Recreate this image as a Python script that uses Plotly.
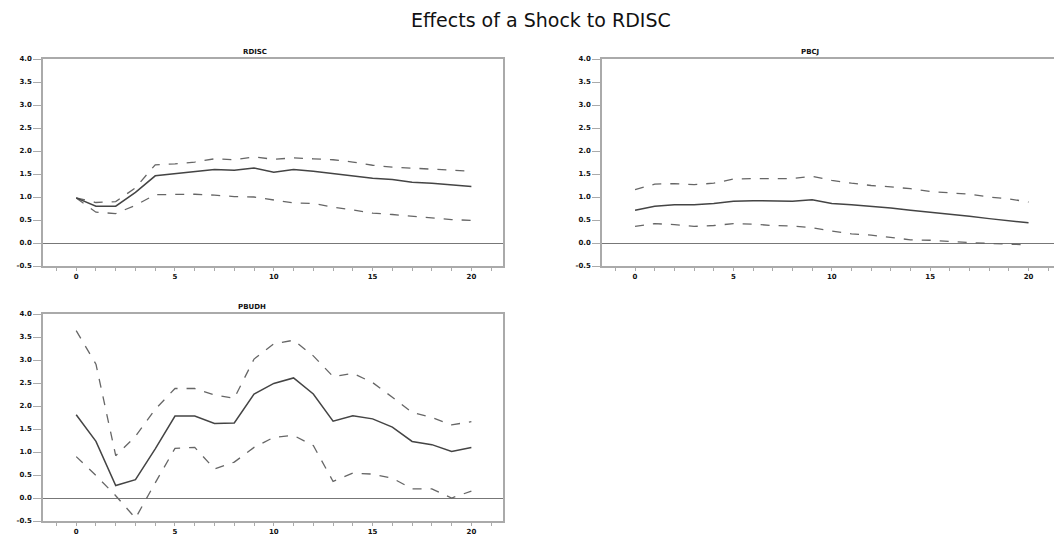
import plotly.graph_objects as go

steps = list(range(21))

rdisc_mid = [0.98, 0.80, 0.80, 1.10, 1.46, 1.51, 1.56, 1.60, 1.58, 1.63, 1.54,
             1.60, 1.56, 1.51, 1.45, 1.41, 1.38, 1.32, 1.30, 1.26, 1.23]
rdisc_hi = [0.98, 0.88, 0.90, 1.20, 1.70, 1.72, 1.76, 1.83, 1.81, 1.87, 1.82,
            1.85, 1.83, 1.81, 1.76, 1.69, 1.65, 1.63, 1.60, 1.58, 1.56]
rdisc_lo = [0.98, 0.67, 0.64, 0.82, 1.05, 1.06, 1.06, 1.04, 1.01, 1.00, 0.94,
            0.87, 0.86, 0.78, 0.72, 0.65, 0.62, 0.58, 0.55, 0.51, 0.49]

pbcj_mid = [0.71, 0.80, 0.83, 0.83, 0.86, 0.91, 0.92, 0.91, 0.91, 0.94, 0.86,
            0.83, 0.80, 0.76, 0.71, 0.67, 0.62, 0.58, 0.53, 0.48, 0.44]
pbcj_hi = [1.16, 1.28, 1.29, 1.27, 1.30, 1.39, 1.40, 1.40, 1.40, 1.45, 1.36,
           1.30, 1.25, 1.22, 1.18, 1.12, 1.09, 1.06, 1.00, 0.96, 0.89]
pbcj_lo = [0.36, 0.42, 0.40, 0.36, 0.38, 0.42, 0.41, 0.38, 0.37, 0.33, 0.26,
           0.20, 0.17, 0.12, 0.07, 0.06, 0.03, 0.01, -0.01, -0.03, -0.04]

pbudh_mid = [1.81, 1.23, 0.27, 0.40, 1.07, 1.78, 1.78, 1.62, 1.63, 2.26, 2.49,
             2.61, 2.26, 1.67, 1.79, 1.72, 1.54, 1.23, 1.16, 1.01, 1.10]
pbudh_hi = [3.64, 2.91, 0.92, 1.34, 1.93, 2.38, 2.38, 2.24, 2.17, 3.02, 3.35,
            3.43, 3.09, 2.64, 2.71, 2.51, 2.19, 1.86, 1.75, 1.59, 1.66]
pbudh_lo = [0.90, 0.49, 0.05, -0.44, 0.33, 1.08, 1.10, 0.63, 0.78, 1.10, 1.32,
            1.36, 1.14, 0.36, 0.54, 0.52, 0.43, 0.20, 0.20, 0.00, 0.15]

panel_titles = ["RDISC", "PBCJ", "PBUDH"]
main_title = "Effects of a Shock to RDISC"
x_ticks = [0, 5, 10, 15, 20]
y_ticks = [-0.5, 0.0, 0.5, 1.0, 1.5, 2.0, 2.5, 3.0, 3.5, 4.0]

# page has an 8px body margin; figure sized to fill the rest of the window
OFF = 8
W, H = 1062 - OFF, 537 - OFF


def px(x):
    return (x - OFF) / W


def py(y):
    return 1 - (y - OFF) / H


panels = [
    (rdisc_mid, rdisc_hi, rdisc_lo, (43, 503), (59, 266), "x", "y"),
    (pbcj_mid, pbcj_hi, pbcj_lo, (602, 1060), (59, 266), "x2", "y2"),
    (pbudh_mid, pbudh_hi, pbudh_lo, (43, 503), (314, 521), "x3", "y3"),
]
title_pos = [(255, 52), (810, 52), (252, 307)]

fig = go.Figure()
layout = dict(
    width=W, height=H, margin=dict(l=0, r=0, t=0, b=0, autoexpand=False),
    paper_bgcolor="white", plot_bgcolor="white", showlegend=False,
    font=dict(family="DejaVu Sans", color="#222"),
)
annotations = []
tickfont = dict(size=7, family="DejaVu Sans", color="#111")
for i, (mid, hi, lo, (x0, x1), (y0, y1), xa, ya) in enumerate(panels):
    for series, dash, w, col in ((hi, "dash", 1.3, "#666"), (lo, "dash", 1.3, "#666"),
                                 (mid, "solid", 1.5, "#444")):
        fig.add_trace(go.Scatter(x=steps, y=series, mode="lines", xaxis=xa, yaxis=ya,
                                 line=dict(color=col, width=w, dash=dash), hoverinfo="skip"))
    xkey = "xaxis" if xa == "x" else "xaxis" + xa[1:]
    ykey = "yaxis" if ya == "y" else "yaxis" + ya[1:]
    layout[xkey] = dict(
        domain=[px(x0), min(px(x1), 1.0)], anchor=ya, range=[-1.68, 21.6], automargin=False,
        tickvals=x_ticks, ticktext=["<b>%d</b>" % v for v in x_ticks],
        ticks="outside", ticklen=3, tickcolor="#aaa",
        minor=dict(dtick=1, ticks="outside", ticklen=3, tickcolor="#aaa", tick0=0),
        showline=True, linecolor="#aaa", linewidth=1.5, mirror=True,
        showgrid=False, zeroline=False, tickfont=tickfont,
    )
    layout[ykey] = dict(
        domain=[py(y1), py(y0)], anchor=xa, range=[-0.5, 4.0], automargin=False,
        tickvals=y_ticks, ticktext=["<b>%.1f</b>" % v for v in y_ticks],
        ticks="outside", ticklen=8, tickcolor="#aaa",
        showline=True, linecolor="#aaa", linewidth=1.5, mirror=True,
        showgrid=False, zeroline=True, zerolinecolor="#777", zerolinewidth=1,
        tickfont=tickfont,
    )
    tx, ty = title_pos[i]
    annotations.append(dict(text="<b>" + panel_titles[i] + "</b>", x=px(tx), y=py(ty),
                            xref="paper", yref="paper", showarrow=False,
                            xanchor="center", yanchor="middle",
                            font=dict(size=7, family="DejaVu Sans", color="#111")))

annotations.append(dict(text=main_title, x=px(541), y=py(20), xref="paper", yref="paper",
                        showarrow=False, xanchor="center", yanchor="middle",
                        font=dict(size=19, family="DejaVu Sans", color="#111")))
layout["annotations"] = annotations
fig.update_layout(**layout)
fig.write_html("out.html")
